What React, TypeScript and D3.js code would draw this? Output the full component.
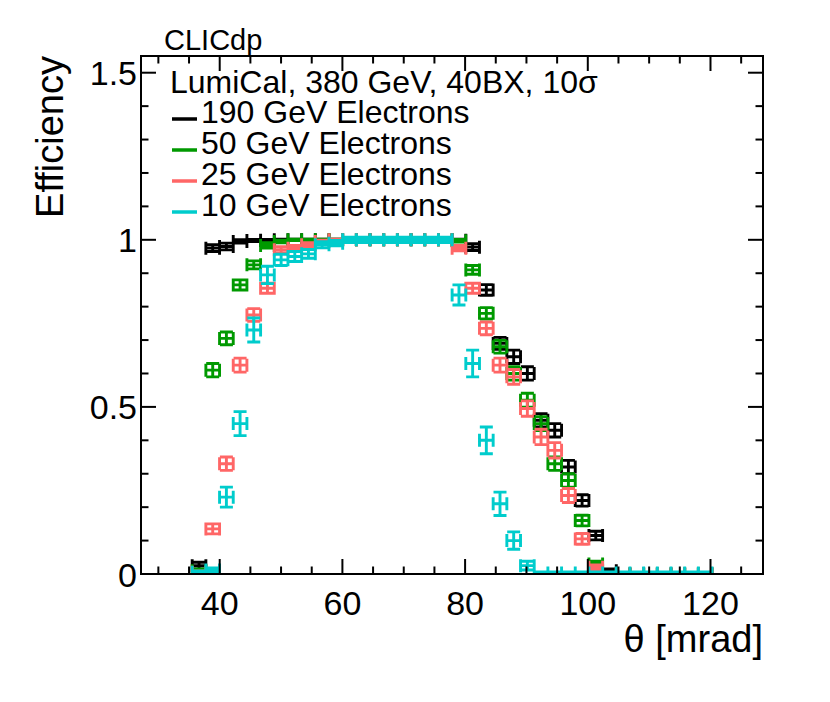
import React from 'react';
import * as d3 from 'd3';

// theta bin centres [mrad]
const theta = [
  36.63, 38.86, 41.09, 43.32, 45.55, 47.78, 50.01, 52.24, 54.47, 56.70,
  58.93, 61.16, 63.39, 65.62, 67.85, 70.08, 72.31, 74.54, 76.77, 79.00,
  81.23, 83.46, 85.69, 87.92, 90.15, 92.38, 94.61, 96.84, 99.07, 101.30,
  103.53, 105.76, 107.99, 110.22, 112.45, 114.68, 116.91, 119.14,
];
const thetaHalfWidth = 1.115;

const eff190 = [
  0.025, 0.975, 0.98, 0.995, 0.998, 0.999, 1, 1, 1, 1,
  1, 1, 1, 1, 1, 1, 1, 1, 1, 0.999,
  0.978, 0.85, 0.69, 0.65, 0.60, 0.46, 0.43, 0.32, 0.22, 0.115,
  0.01, 0, 0, 0, 0, 0, 0, 0,
];
const err190 = [
  0.01, 0.01, 0.01, 0.005, 0.003, 0.002, 0.002, 0.002, 0.002, 0.002,
  0.002, 0.002, 0.002, 0.002, 0.002, 0.002, 0.002, 0.002, 0.002, 0.003,
  0.01, 0.016, 0.018, 0.02, 0.02, 0.02, 0.02, 0.02, 0.017, 0.013,
  0.005, 0.002, 0.002, 0.002, 0.002, 0.002, 0.002, 0.002,
];
const eff50 = [
  0.01, 0.61, 0.705, 0.865, 0.925, 0.983, 0.995, 1, 1, 1,
  1, 1, 1, 1, 1, 1, 1, 1, 1, 0.997,
  0.91, 0.78, 0.68, 0.60, 0.52, 0.45, 0.33, 0.28, 0.16, 0.03,
  0, 0, 0, 0, 0, 0, 0, 0,
];
const err50 = [
  0.005, 0.02, 0.019, 0.015, 0.012, 0.008, 0.004, 0.002, 0.002, 0.002,
  0.002, 0.002, 0.002, 0.002, 0.002, 0.002, 0.002, 0.002, 0.002, 0.004,
  0.013, 0.017, 0.019, 0.02, 0.021, 0.021, 0.02, 0.02, 0.016, 0.008,
  0.002, 0.002, 0.002, 0.002, 0.002, 0.002, 0.002, 0.002,
];
const eff25 = [
  0.005, 0.135, 0.33, 0.625, 0.775, 0.855, 0.97, 0.975, 0.985, 0.995,
  1, 1, 1, 1, 1, 1, 1, 1, 1, 0.975,
  0.855, 0.735, 0.625, 0.59, 0.495, 0.41, 0.37, 0.235, 0.105, 0.02,
  0, 0, 0, 0, 0, 0, 0, 0,
];
const err25 = [
  0.004, 0.015, 0.02, 0.021, 0.019, 0.015, 0.009, 0.008, 0.006, 0.004,
  0.002, 0.002, 0.002, 0.002, 0.002, 0.002, 0.002, 0.002, 0.002, 0.008,
  0.015, 0.019, 0.021, 0.022, 0.023, 0.023, 0.023, 0.021, 0.016, 0.007,
  0.002, 0.002, 0.002, 0.002, 0.002, 0.002, 0.002, 0.002,
];
const eff10 = [
  0.005, 0.012, 0.23, 0.45, 0.73, 0.895, 0.94, 0.95, 0.958, 0.985,
  0.99, 1, 1, 1, 1, 1, 1, 1, 1, 0.835,
  0.63, 0.40, 0.21, 0.10, 0.025, 0.003, 0.003, 0.003, 0.003, 0.003,
  0.003, 0.003, 0.003, 0.003, 0.003, 0.003, 0.003, 0.003,
];
const err10 = [
  0.004, 0.006, 0.03, 0.036, 0.036, 0.026, 0.017, 0.015, 0.013, 0.009,
  0.008, 0.008, 0.008, 0.008, 0.008, 0.008, 0.008, 0.008, 0.008, 0.03,
  0.04, 0.04, 0.035, 0.026, 0.013, 0.003, 0.003, 0.003, 0.003, 0.003,
  0.003, 0.003, 0.003, 0.003, 0.003, 0.003, 0.003, 0.003,
];

const seriesLabels = ['190 GeV Electrons', '50 GeV Electrons', '25 GeV Electrons', '10 GeV Electrons'];
const seriesColors = ['#000000', '#009900', '#ff6666', '#00cccc'];
const seriesValues = [eff190, eff50, eff25, eff10];
const seriesErrors = [err190, err50, err25, err10];

const xMajorTicks = [40, 60, 80, 100, 120];
const xMinorTicks = [30, 35, 45, 50, 55, 65, 70, 75, 85, 90, 95, 105, 110, 115, 125];
const yMajorTicks = [0, 0.5, 1, 1.5];
const yTickLabels = ['0', '0.5', '1', '1.5'];
const yMinorTicks = [0.1, 0.2, 0.3, 0.4, 0.6, 0.7, 0.8, 0.9, 1.1, 1.2, 1.3, 1.4];

const headerText = 'CLICdp';
const infoText = 'LumiCal, 380 GeV, 40BX, 10\u03c3';
const xTitle = '\u03b8 [mrad]';
const yTitle = 'Efficiency';

export default function App() {
  const W = 830, H = 702;
  const L = 141, R = 763, T = 56, B = 574;
  const x = d3.scaleLinear().domain([27.17, 128.56]).range([L, R]);
  const y = d3.scaleLinear().domain([0, 1.55]).range([B, T]);
  const font = '"Liberation Sans", Arial, Helvetica, sans-serif';
  const cap = 6.5;
  const majLen = 15, minLen = 7.5;

  const markPath = (vals: number[], errs: number[]) =>
    theta.map((t, i) => {
      const cx = x(t);
      const cy = y(vals[i]);
      const x0 = x(t - thetaHalfWidth), x1 = x(t + thetaHalfWidth);
      const yt = y(vals[i] + errs[i]), yb = y(vals[i] - errs[i]);
      return `M${x0},${cy}H${x1}M${x0},${cy - cap}V${cy + cap}M${x1},${cy - cap}V${cy + cap}` +
        `M${cx},${yt}V${yb}M${cx - cap},${yt}H${cx + cap}M${cx - cap},${yb}H${cx + cap}`;
    }).join('');

  return (
    <svg width={W} height={H} style={{ position: 'absolute', left: 0, top: 0, background: '#fff' }} fontFamily={font}>
      <defs>
        <clipPath id="frameClip">
          <rect x={L} y={T} width={R - L} height={B - T + 1} />
        </clipPath>
      </defs>
      <rect x={0} y={0} width={W} height={H} fill="#fff" />

      <g clipPath="url(#frameClip)">
        {seriesValues.map((vals, s) => (
          <path key={s} d={markPath(vals, seriesErrors[s])} stroke={seriesColors[s]} strokeWidth={2.9} fill="none" />
        ))}
      </g>

      {/* frame */}
      <rect x={L} y={T} width={R - L} height={B - T} fill="none" stroke="#000" strokeWidth={2} />
      {/* x ticks */}
      {xMajorTicks.map(v => (
        <g key={'xm' + v}>
          <line x1={x(v)} x2={x(v)} y1={B} y2={B - majLen} stroke="#000" strokeWidth={2} />
          <line x1={x(v)} x2={x(v)} y1={T} y2={T + majLen} stroke="#000" strokeWidth={2} />
          <text x={x(v)} y={615} fontSize={34} textAnchor="middle">{v}</text>
        </g>
      ))}
      {xMinorTicks.map(v => (
        <g key={'xn' + v}>
          <line x1={x(v)} x2={x(v)} y1={B} y2={B - minLen} stroke="#000" strokeWidth={2} />
          <line x1={x(v)} x2={x(v)} y1={T} y2={T + minLen} stroke="#000" strokeWidth={2} />
        </g>
      ))}
      {/* y ticks */}
      {yMajorTicks.map((v, i) => (
        <g key={'ym' + v}>
          <line x1={L} x2={L + majLen} y1={y(v)} y2={y(v)} stroke="#000" strokeWidth={2} />
          <line x1={R} x2={R - majLen} y1={y(v)} y2={y(v)} stroke="#000" strokeWidth={2} />
          <text x={137} y={y(v) + 12.5} fontSize={34} textAnchor="end">{yTickLabels[i]}</text>
        </g>
      ))}
      {yMinorTicks.map(v => (
        <g key={'yn' + v}>
          <line x1={L} x2={L + minLen} y1={y(v)} y2={y(v)} stroke="#000" strokeWidth={2} />
          <line x1={R} x2={R - minLen} y1={y(v)} y2={y(v)} stroke="#000" strokeWidth={2} />
        </g>
      ))}

      {/* titles */}
      <text x={R} y={652} fontSize={38} textAnchor="end">{xTitle}</text>
      <text transform={`translate(63,${T}) rotate(-90)`} fontSize={38} textAnchor="end">{yTitle}</text>

      <text x={164} y={50} fontSize={29}>{headerText}</text>
      <text x={170} y={93} fontSize={32}>{infoText}</text>

      {seriesLabels.map((lab, i) => {
        const base = 123 + i * 31;
        return (
          <g key={lab}>
            <line x1={172} x2={197} y1={base - 4} y2={base - 4} stroke={seriesColors[i]} strokeWidth={3.5} />
            <text x={201} y={base} fontSize={32}>{lab}</text>
          </g>
        );
      })}
    </svg>
  );
}
